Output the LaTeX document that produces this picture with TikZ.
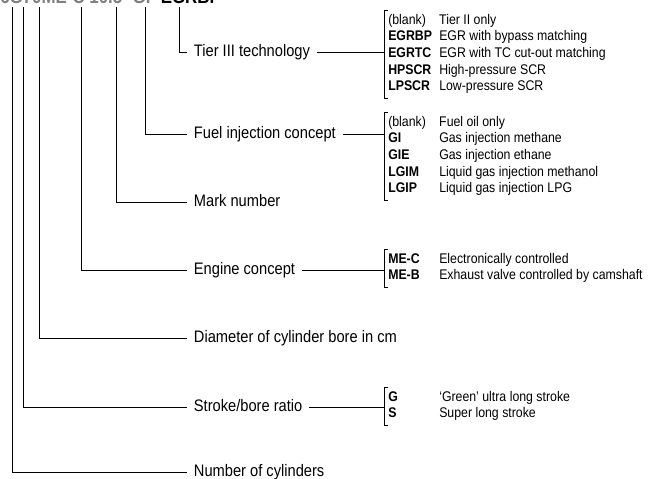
\documentclass[tikz,border=0pt]{standalone}
\usepackage{fontspec}
\setmainfont{Liberation Sans}[FakeStretch=0.88]

\newcommand{\optlist}[1]{\begin{tabular}{@{}p{38.25pt}@{}l@{}}#1\end{tabular}}

\begin{document}
\begin{tikzpicture}[x=0.75pt,y=-0.75pt,
  lbl/.style={anchor=west,inner xsep=5pt,inner ysep=0pt,text height=9pt,text depth=2.5pt,
    font=\fontsize{12.5}{15}\selectfont},
  optbox/.style={anchor=west,inner xsep=3pt,inner ysep=1.5pt,font=\fontsize{10.5}{12.5}\selectfont},
  ln/.style={line width=0.6pt}]
  \useasboundingbox (0,0) rectangle (651,479);

  % engine designation, cut at the top edge
  \node[anchor=base west,inner sep=0pt,font=\bfseries\fontsize{14.4}{16}\selectfont] (desig) at (0,3.5)
    {\textcolor{gray}{6G70ME-C 10.5 -GI }-EGRBP};
  \coordinate (tcyl) at (12,7);
  \coordinate (tstrk) at (23,7);
  \coordinate (tdia) at (39,7);
  \coordinate (teng) at (81,7);
  \coordinate (tmark) at (116,7);
  \coordinate (tfuel) at (145,7);
  \coordinate (ttier) at (179,7);

  % labels
  \node[lbl] (tiertxt) at (187,52) {Tier III technology};
  \node[lbl] (fueltxt) at (187,134) {Fuel injection concept};
  \node[lbl] (marktxt) at (187,202) {Mark number};
  \node[lbl] (engtxt) at (187,270) {Engine concept};
  \node[lbl] (diatxt) at (187,338) {Diameter of cylinder bore in cm};
  \node[lbl] (strktxt) at (187,407) {Stroke/bore ratio};
  \node[lbl] (cyltxt) at (187,472) {Number of cylinders};

  % option lists
  \node[optbox] (tier) at (384,54) {\optlist{
    (blank) & Tier II only\\
    \textbf{EGRBP} & EGR with bypass matching\\
    \textbf{EGRTC} & EGR with TC cut-out matching\\
    \textbf{HPSCR} & High-pressure SCR\\
    \textbf{LPSCR} & Low-pressure SCR}};
  \node[optbox] (fuel) at (384,156) {\optlist{
    (blank) & Fuel oil only\\
    \textbf{GI} & Gas injection methane\\
    \textbf{GIE} & Gas injection ethane\\
    \textbf{LGIM} & Liquid gas injection methanol\\
    \textbf{LGIP} & Liquid gas injection LPG}};
  \node[optbox] (eng) at (384,268) {\optlist{
    \textbf{ME-C} & Electronically controlled\\
    \textbf{ME-B} & Exhaust valve controlled by camshaft}};
  \node[optbox] (strk) at (384,406) {\optlist{
    \textbf{G} & `Green' ultra long stroke\\
    \textbf{S} & Super long stroke}};

  % leaders from the designation
  \draw[ln] (ttier) |- (tiertxt.west);
  \draw[ln] (tfuel) |- (fueltxt.west);
  \draw[ln] (tmark) |- (marktxt.west);
  \draw[ln] (teng) |- (engtxt.west);
  \draw[ln] (tdia) |- (diatxt.west);
  \draw[ln] (tstrk) |- (strktxt.west);
  \draw[ln] (tcyl) |- (cyltxt.west);

  % brackets and links to them
  \foreach \n in {tier,fuel,eng,strk}
    \draw[ln] ([xshift=3pt]\n.north west) -- (\n.north west) -- (\n.south west) -- ([xshift=3pt]\n.south west);
  \draw[ln] (tiertxt.east) -- (tiertxt.east -| tier.west);
  \draw[ln] (fueltxt.east) -- (fueltxt.east -| fuel.west);
  \draw[ln] (engtxt.east) -- (engtxt.east -| eng.west);
  \draw[ln] (strktxt.east) -- (strktxt.east -| strk.west);
\end{tikzpicture}
\end{document}
